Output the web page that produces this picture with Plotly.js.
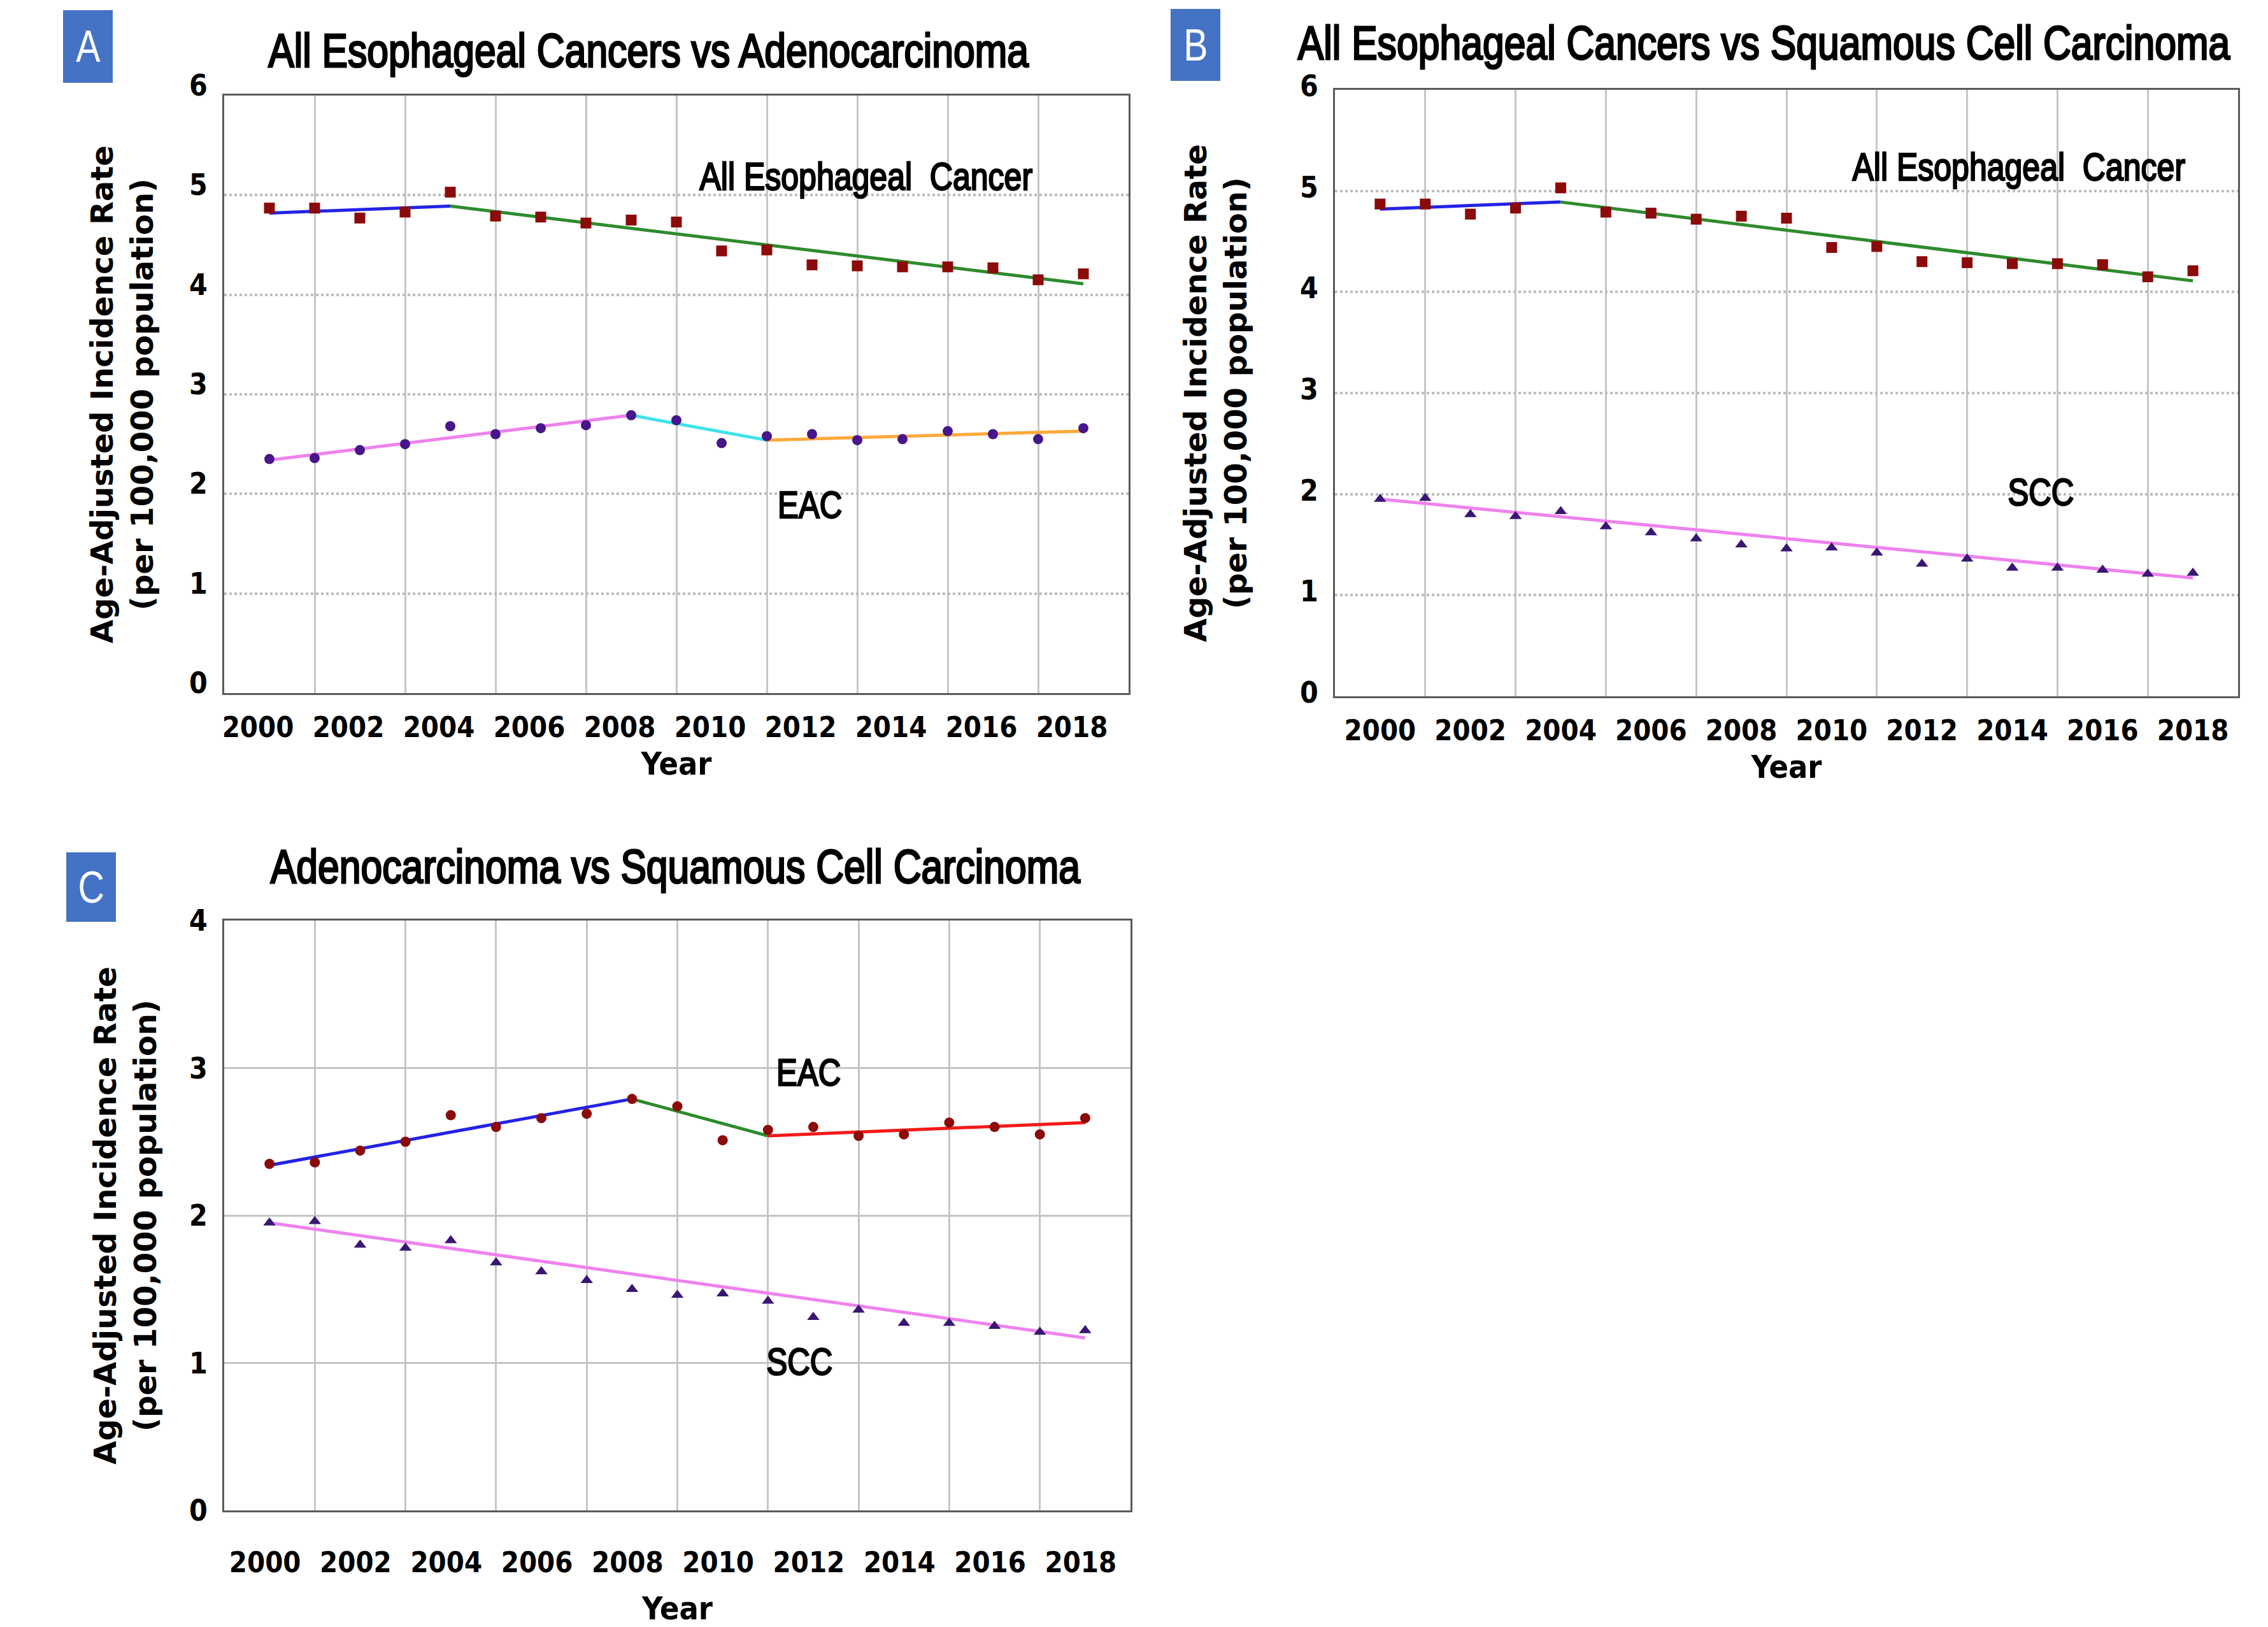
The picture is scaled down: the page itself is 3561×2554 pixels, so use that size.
<!DOCTYPE html>
<html>
<head>
<meta charset="utf-8">
<script src="https://cdn.plot.ly/plotly-3.0.1.min.js"></script>
<style>html,body{margin:0;padding:0;background:#fff;}</style>
</head>
<body>
<div id="chart" style="width:3561px;height:2554px;"></div>
<script>
// ---------------- data ----------------
const years = [2000,2001,2002,2003,2004,2005,2006,2007,2008,2009,2010,2011,2012,2013,2014,2015,2016,2017,2018];
// All esophageal cancers (age-adjusted rate per 100,000)
const allEsoRate = [4.87,4.87,4.77,4.83,5.03,4.79,4.78,4.72,4.75,4.73,4.44,4.45,4.30,4.29,4.28,4.28,4.27,4.15,4.21];
// Esophageal adenocarcinoma
const eacRate = [2.35,2.36,2.44,2.50,2.68,2.60,2.66,2.69,2.79,2.74,2.51,2.58,2.60,2.54,2.55,2.63,2.60,2.55,2.66];
// Squamous cell carcinoma
const sccRate = [1.95,1.96,1.80,1.78,1.83,1.68,1.62,1.56,1.50,1.46,1.47,1.42,1.31,1.36,1.27,1.27,1.25,1.21,1.22];

// Joinpoint fitted segments
const allEsoSeg1Years = [2000, 2004];  const allEsoSeg1Vals = [4.82, 4.89];
const allEsoSeg2Years = [2004, 2018];  const allEsoSeg2Vals = [4.89, 4.11];
const eacSeg1Years = [2000, 2008];     const eacSeg1Vals = [2.34, 2.79];
const eacSeg2Years = [2008, 2011];     const eacSeg2Vals = [2.79, 2.54];
const eacSeg3Years = [2011, 2018];     const eacSeg3Vals = [2.54, 2.63];
const sccSegYears = [2000, 2018];      const sccSegVals = [1.95, 1.17];

// tick labels
const xTickVals = [2000,2002,2004,2006,2008,2010,2012,2014,2016,2018];
const xTickText = ['2000','2002','2004','2006','2008','2010','2012','2014','2016','2018'];
const yTicksAB = [0,1,2,3,4,5,6];
const yTicksC = [0,1,2,3,4];

const panelTitles = ['All Esophageal Cancers vs Adenocarcinoma',
                     'All Esophageal Cancers vs Squamous Cell Carcinoma',
                     'Adenocarcinoma vs Squamous Cell Carcinoma'];
const panelLetters = ['A','B','C'];
const yTitle = 'Age-Adjusted Incidence Rate<br>(per 100,000 population)';

// ---------------- styling ----------------
const W = 3561, H = 2554;
const SANS = '"Liberation Sans", Arial, sans-serif';
const TICKF = '"DejaVu Sans Condensed", "DejaVu Sans", sans-serif';
const VERD = '"DejaVu Sans", Verdana, sans-serif';
const CONDENSE = 0.82;   // horizontal squeeze for the narrow (Calibri-like) texts

const cRedMk = '#8B0A0A', cPurMk = '#47168A', cTriMk = '#3A1672';
const cBlue = '#2323E6', cGreen = '#2E8B2E', cViolet = '#EE82EE', cCyan = '#3CE3EA', cOrange = '#FFA83A', cRed = '#F21A1A';

function px(x){return x/W;}
function py(y){return 1 - y/H;}

function pts(xa, ya, y, color, symbol, size){
  return {x: years, y: y, xaxis: xa, yaxis: ya, mode: 'markers', type: 'scatter',
          marker: {symbol: symbol, size: size, color: color}, showlegend: false, hoverinfo: 'x+y'};
}
function seg(xa, ya, xs, ys, color){
  return {x: xs, y: ys, xaxis: xa, yaxis: ya, mode: 'lines', type: 'scatter',
          line: {color: color, width: 5}, showlegend: false, hoverinfo: 'skip'};
}

const traces = [
  // Panel A
  seg('x','y', allEsoSeg1Years, allEsoSeg1Vals, cBlue),
  seg('x','y', allEsoSeg2Years, allEsoSeg2Vals, cGreen),
  seg('x','y', eacSeg1Years, eacSeg1Vals, cViolet),
  seg('x','y', eacSeg2Years, eacSeg2Vals, cCyan),
  seg('x','y', eacSeg3Years, eacSeg3Vals, cOrange),
  pts('x','y', allEsoRate, cRedMk, 'square', 17),
  pts('x','y', eacRate, cPurMk, 'circle', 16),
  // Panel B
  seg('x2','y2', allEsoSeg1Years, allEsoSeg1Vals, cBlue),
  seg('x2','y2', allEsoSeg2Years, allEsoSeg2Vals, cGreen),
  seg('x2','y2', sccSegYears, sccSegVals, cViolet),
  pts('x2','y2', allEsoRate, cRedMk, 'square', 17),
  pts('x2','y2', sccRate, cTriMk, 'triangle-up', 17),
  // Panel C
  seg('x3','y3', eacSeg1Years, eacSeg1Vals, cBlue),
  seg('x3','y3', eacSeg2Years, eacSeg2Vals, cGreen),
  seg('x3','y3', eacSeg3Years, eacSeg3Vals, cRed),
  seg('x3','y3', sccSegYears, sccSegVals, cViolet),
  pts('x3','y3', eacRate, cRedMk, 'circle', 16),
  pts('x3','y3', sccRate, cTriMk, 'triangle-up', 17)
];

function xAxis(domain, anchor, ticklen, shift, standoff){
  return {
    domain: domain, anchor: anchor, range: [1999, 2019], fixedrange: true,
    tickmode: 'array', tickvals: xTickVals, ticktext: xTickText,
    ticks: 'outside', ticklen: ticklen, tickcolor: 'rgba(0,0,0,0)', ticklabelshift: shift,
    tickfont: {family: TICKF, size: 45, color: '#000', weight: 'bold'},
    showgrid: false, zeroline: false,
    minor: {tickmode: 'linear', tick0: 2001, dtick: 2, showgrid: true, gridcolor: '#c6c6c6', gridwidth: 3, ticks: ''},
    showline: true, mirror: true, linecolor: '#5a5a5a', linewidth: 3,
    title: {text: 'Year', standoff: standoff, font: {family: TICKF, size: 50, color: '#000', weight: 'bold'}}
  };
}
function yAxis(domain, anchor, max, tickvals, dash, gridcolor, gridwidth, shift, standoff){
  return {
    domain: domain, anchor: anchor, range: [0, max], fixedrange: true,
    tickmode: 'array', tickvals: tickvals,
    ticks: 'outside', ticklen: 14, tickcolor: 'rgba(0,0,0,0)', ticklabelshift: shift,
    tickfont: {family: TICKF, size: 46, color: '#000', weight: 'bold'},
    showgrid: true, gridcolor: gridcolor, gridwidth: gridwidth, griddash: dash, zeroline: false,
    showline: true, mirror: true, linecolor: '#5a5a5a', linewidth: 3,
    title: {text: yTitle, standoff: standoff, font: {family: VERD, size: 48, color: '#000', weight: 'bold'}}
  };
}

const layout = {
  width: W, height: H, margin: {l: 0, r: 0, t: 0, b: 0},
  paper_bgcolor: '#fff', plot_bgcolor: '#fff', showlegend: false,
  xaxis:  xAxis([px(352), px(1772)], 'y', 12, -18, 14),
  yaxis:  yAxis([py(1088), py(150)], 'x', 6, yTicksAB, 'dot', '#bdbdbd', 4, -16, 42),
  xaxis2: xAxis([px(2096), px(3514)], 'y2', 12, 0, 14),
  yaxis2: yAxis([py(1093), py(141)], 'x2', 6, yTicksAB, 'dot', '#bdbdbd', 4, -6, 69),
  xaxis3: xAxis([px(352), px(1775)], 'y3', 40, -7, 50),
  yaxis3: yAxis([py(2371), py(1445)], 'x3', 4, yTicksC, 'solid', '#c4c4c4', 3, 0, 37),
  shapes: [
    {type: 'rect', xref: 'paper', yref: 'paper', x0: px(99), x1: px(177), y0: py(130), y1: py(16), fillcolor: '#4472C4', line: {width: 0}},
    {type: 'rect', xref: 'paper', yref: 'paper', x0: px(1838), x1: px(1916), y0: py(127), y1: py(14), fillcolor: '#4472C4', line: {width: 0}},
    {type: 'rect', xref: 'paper', yref: 'paper', x0: px(104), x1: px(182), y0: py(1447), y1: py(1338), fillcolor: '#4472C4', line: {width: 0}}
  ],
  annotations: [
    // panel letters
    {text: panelLetters[0], xref: 'paper', yref: 'paper', x: px(138), y: py(73), xanchor: 'center', yanchor: 'middle', showarrow: false, font: {family: SANS, size: 70, color: '#fff'}},
    {text: panelLetters[1], xref: 'paper', yref: 'paper', x: px(1877), y: py(71), xanchor: 'center', yanchor: 'middle', showarrow: false, font: {family: SANS, size: 70, color: '#fff'}},
    {text: panelLetters[2], xref: 'paper', yref: 'paper', x: px(143), y: py(1393), xanchor: 'center', yanchor: 'middle', showarrow: false, font: {family: SANS, size: 70, color: '#fff'}},
    // panel titles
    {text: panelTitles[0], xref: 'paper', yref: 'paper', x: px(1018), y: py(80), xanchor: 'center', yanchor: 'middle', showarrow: false, font: {family: SANS, size: 74, color: '#000'}},
    {text: panelTitles[1], xref: 'paper', yref: 'paper', x: px(2770), y: py(68), xanchor: 'center', yanchor: 'middle', showarrow: false, font: {family: SANS, size: 74, color: '#000'}},
    {text: panelTitles[2], xref: 'paper', yref: 'paper', x: px(1060), y: py(1360), xanchor: 'center', yanchor: 'middle', showarrow: false, font: {family: SANS, size: 74, color: '#000'}},
    // series labels
    {text: 'All Esophageal\u00a0 Cancer', xref: 'x', yref: 'y', x: 2013.2, y: 5.19, xanchor: 'center', yanchor: 'middle', showarrow: false, font: {family: SANS, size: 61, color: '#000'}},
    {text: 'EAC', xref: 'x', yref: 'y', x: 2011.95, y: 1.89, xanchor: 'center', yanchor: 'middle', showarrow: false, font: {family: SANS, size: 60, color: '#000'}},
    {text: 'All Esophageal\u00a0 Cancer', xref: 'x2', yref: 'y2', x: 2014.15, y: 5.24, xanchor: 'center', yanchor: 'middle', showarrow: false, font: {family: SANS, size: 61, color: '#000'}},
    {text: 'SCC', xref: 'x2', yref: 'y2', x: 2014.63, y: 2.02, xanchor: 'center', yanchor: 'middle', showarrow: false, font: {family: SANS, size: 60, color: '#000'}},
    {text: 'EAC', xref: 'x3', yref: 'y3', x: 2011.9, y: 2.97, xanchor: 'center', yanchor: 'middle', showarrow: false, font: {family: SANS, size: 60, color: '#000'}},
    {text: 'SCC', xref: 'x3', yref: 'y3', x: 2011.7, y: 1.01, xanchor: 'center', yanchor: 'middle', showarrow: false, font: {family: SANS, size: 60, color: '#000'}}
  ]
};

Plotly.newPlot('chart', traces, layout, {staticPlot: true, displayModeBar: false}).then(function(gd){
  // squeeze annotation texts horizontally around their own centre (Calibri-like narrow look)
  gd.querySelectorAll('g.annotation').forEach(function(g){
    const idx = parseInt(g.getAttribute('data-index'), 10);
    const t = g.querySelector('text.annotation-text');
    if (!t) return;
    const bb = t.getBBox();
    const cx = bb.x + bb.width / 2;
    t.setAttribute('transform', 'translate(' + cx + ' 0) scale(' + CONDENSE + ' 1) translate(' + (-cx) + ' 0)');
    if (idx >= 3) {
      // heavier strokes for the dark texts, like the reference's semi-bold rendering
      t.setAttribute('stroke', '#000');
      t.setAttribute('stroke-width', idx < 6 ? '3' : '2.6');
      t.style.stroke = '#000';
      t.style.strokeWidth = (idx < 6 ? 3 : 2.6) + 'px';
    }
  });
});
</script>
</body>
</html>
